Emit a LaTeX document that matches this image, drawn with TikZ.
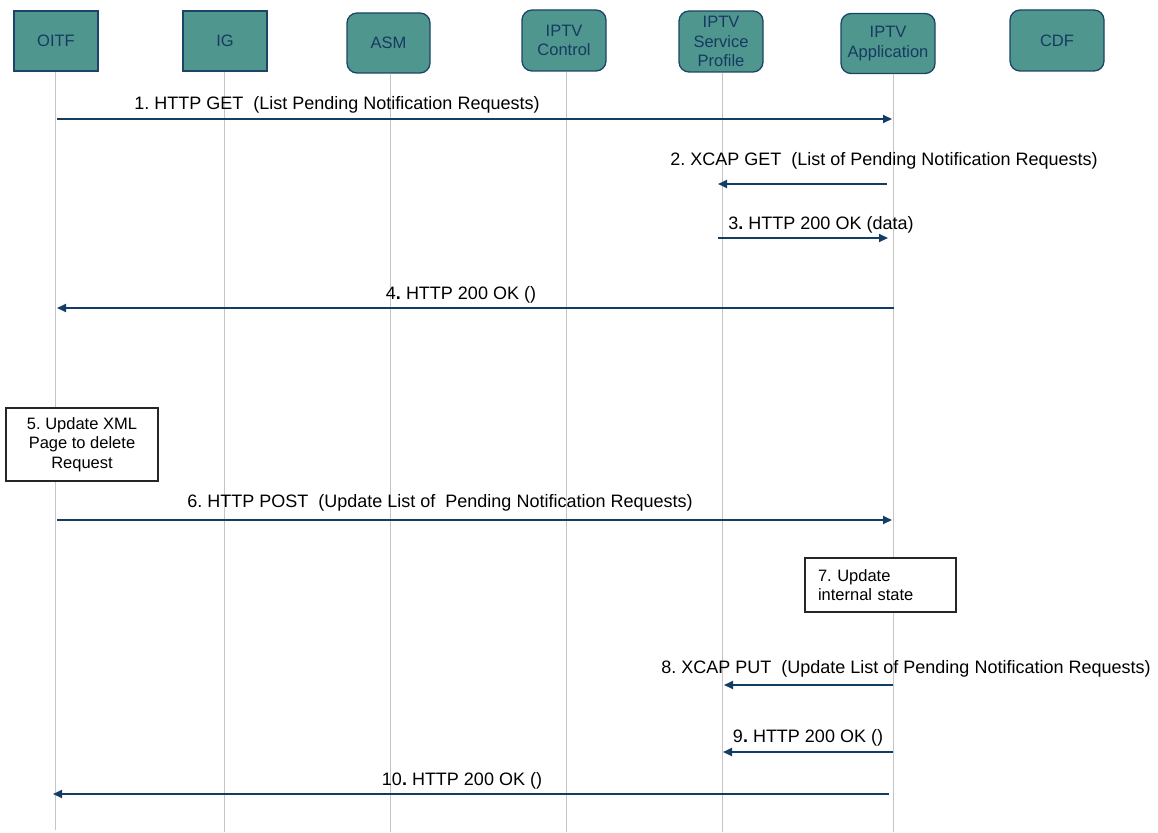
\documentclass[tikz,border=0pt]{standalone}
\usepackage{fontspec}
\setmainfont{Liberation Sans}
\usetikzlibrary{arrows.meta}
\definecolor{boxfill}{HTML}{4F968F}
\definecolor{boxline}{HTML}{1B4466}
\definecolor{boxtext}{HTML}{173A60}
\definecolor{msgcol}{HTML}{123E66}
\definecolor{lifecol}{HTML}{C4C4C4}
\frenchspacing
\begin{document}
\frenchspacing
\begin{tikzpicture}[x=1pt,y=-1pt,
  entity/.style={draw=boxline, line width=1.3pt, fill=boxfill, text=boxtext,
    font=\fontsize{16.5}{19.5}\selectfont, align=center, inner sep=0pt,
    minimum width=84pt, minimum height=60pt},
  rentity/.style={entity, rounded corners=10pt},
  lifeline/.style={draw=lifecol, line width=1pt},
  msg/.style={draw=msgcol, line width=1.8pt, -{Triangle[length=9pt,width=8pt]}},
  msglabel/.style={font=\fontsize{18}{21}\selectfont, anchor=base, inner sep=0pt},
  notebox/.style={draw=black!85, line width=1.2pt, fill=white,
    font=\fontsize{16.5}{19.5}\selectfont, inner sep=0pt}
]
\useasboundingbox (0,0) rectangle (1158,832);

% entities
\node[entity] (oitf) at (56,41) {OITF};
\node[entity] (ig) at (225,41) {IG};
\node[rentity, minimum width=83pt] (asm) at (388.5,43) {ASM};
\node[rentity, minimum height=61pt] (ctrl) at (564,40.5) {IPTV\\Control};
\node[rentity, minimum height=61pt] (prof) at (721,41.5) {IPTV\\Service\\Profile};
\node[rentity, minimum width=94pt] (app) at (888,43.5) {IPTV\\Application};
\node[rentity, minimum width=94pt, minimum height=61pt] (cdf) at (1057,40.5) {CDF};

% lifeline ends
\coordinate (oitfB) at (55,830);
\coordinate (igB) at (224,832);
\coordinate (asmB) at (390,832);
\coordinate (ctrlB) at (566,832);
\coordinate (profB) at (722,832);
\coordinate (appB) at (893,832);

\draw[lifeline] (oitfB |- oitf.south) -- (oitfB);
\draw[lifeline] (igB |- ig.south) -- (igB);
\draw[lifeline] (asmB |- asm.south) -- (asmB);
\draw[lifeline] (ctrlB |- ctrl.south) -- (ctrlB);
\draw[lifeline] (profB |- prof.south) -- (profB);
\draw[lifeline] (appB |- app.south) -- (appB);

% message end points
\coordinate (m1a) at (57,119);  \coordinate (m1b) at (892,119);
\coordinate (m2a) at (887,184); \coordinate (m2b) at (718,184);
\coordinate (m3a) at (718,238); \coordinate (m3b) at (888,238);
\coordinate (m4a) at (894,308); \coordinate (m4b) at (57,308);
\coordinate (m6a) at (57,520);  \coordinate (m6b) at (892,520);
\coordinate (m8a) at (893,685); \coordinate (m8b) at (724,685);
\coordinate (m9a) at (893,752); \coordinate (m9b) at (723,752);
\coordinate (m10a) at (889,794); \coordinate (m10b) at (53,794);

\draw[msg] (m1a) -- (m1b);
\draw[msg] (m2a) -- (m2b);
\draw[msg] (m3a) -- (m3b);
\draw[msg] (m4a) -- (m4b);
\draw[msg] (m6a) -- (m6b);
\draw[msg] (m8a) -- (m8b);
\draw[msg] (m9a) -- (m9b);
\draw[msg] (m10a) -- (m10b);

% labels
\node[msglabel] (l1) at (337,110) {1. HTTP GET\ \ (List Pending Notification Requests)};
\node[msglabel] (l2) at (884,165) {2. XCAP GET\ \ (List of Pending Notification Requests)};
\node[msglabel] (l3) at (821,229) {3{\bfseries .} HTTP 200 OK (data)};
\node[msglabel] (l4) at (461,299) {4{\bfseries .} HTTP 200 OK ()};
\node[msglabel] (l6) at (440,507) {6. HTTP POST\ \ (Update List of\ \ Pending Notification Requests)};
\node[msglabel] (l8) at (906,673) {8. XCAP PUT\ \ (Update List of Pending Notification Requests)};
\node[msglabel] (l9) at (808,742) {9{\bfseries .} HTTP 200 OK ()};
\node[msglabel] (l10) at (462,785) {10{\bfseries .} HTTP 200 OK ()};

% note boxes
\node[notebox, minimum width=152pt, minimum height=73pt, align=center] (n5) at (82,444.5)
  {5. Update XML\\Page to delete\\Request};
\node[notebox, minimum width=151pt, minimum height=54pt, text width=125pt, inner xsep=13pt, align=left] (n7) at (880.5,585)
  {7. Update\\internal state};
\end{tikzpicture}
\end{document}
